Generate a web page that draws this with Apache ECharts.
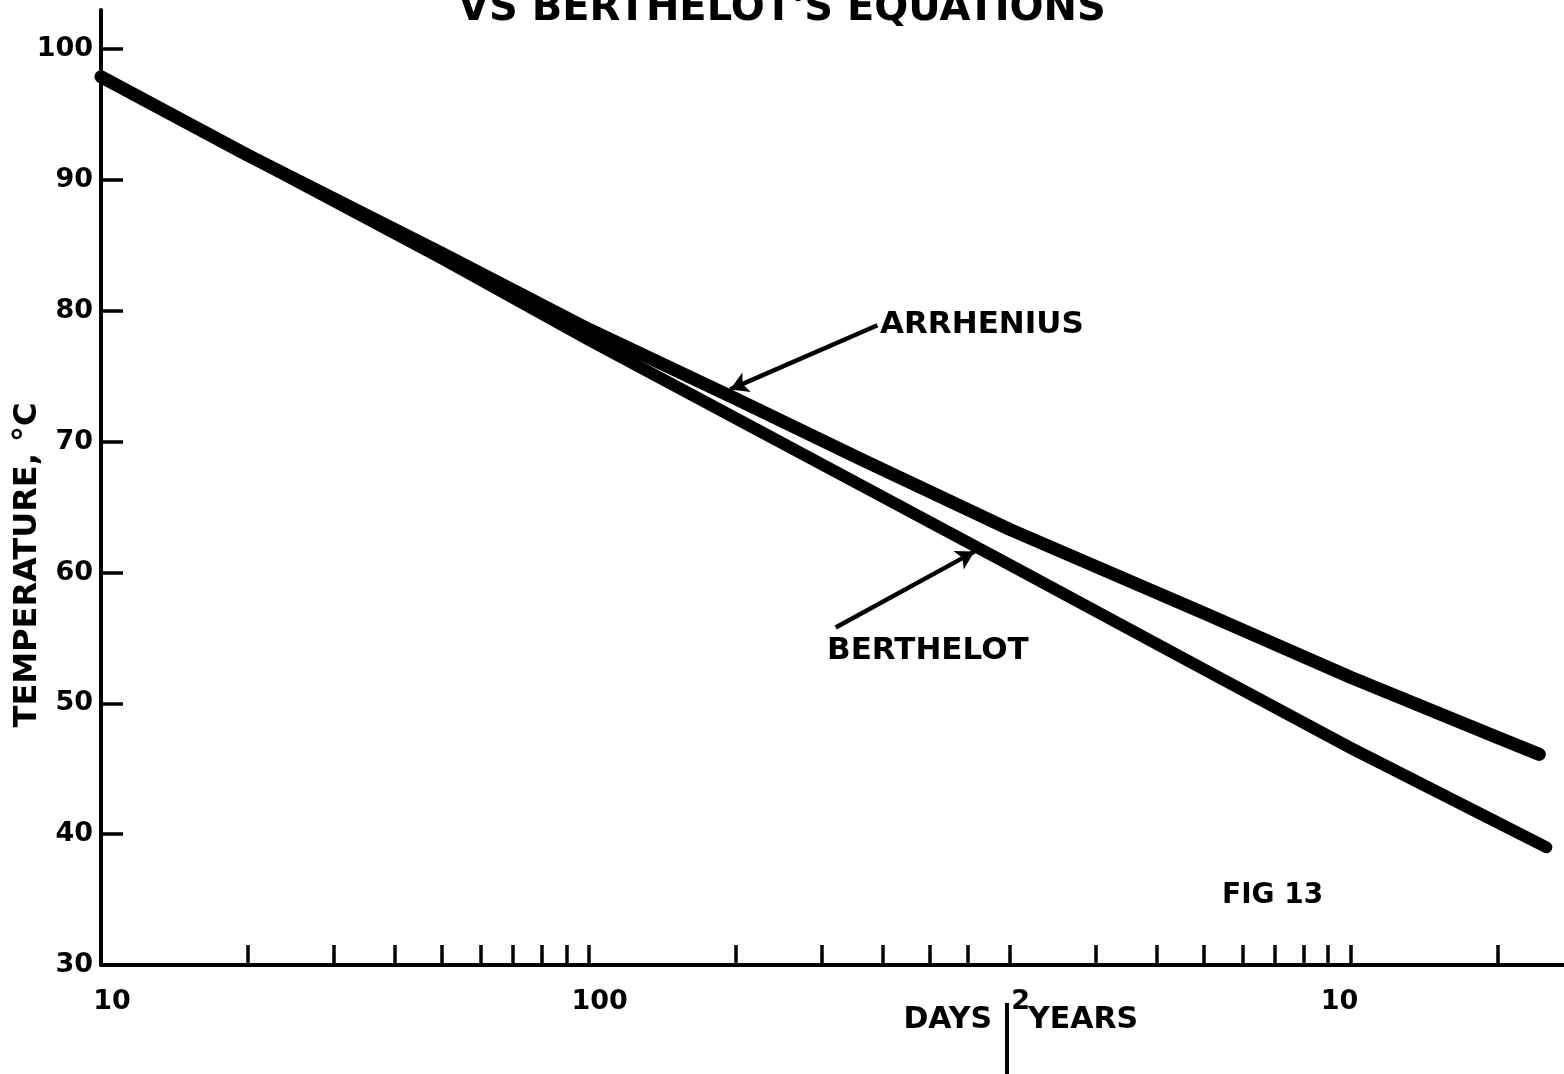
<!DOCTYPE html>
<html>
<head>
<meta charset="utf-8">
<script src="https://cdn.jsdelivr.net/npm/echarts@6/dist/echarts.min.js"></script>
<style>
  html, body { margin: 0; padding: 0; background: #fff; }
  #chart { width: 1564px; height: 1074px; }
</style>
</head>
<body>
<div id="chart"></div>
<script>
// time in days (log axis), temperature in deg C
var arrheniusDays = [10, 20, 50, 100, 200, 365, 730, 1825, 3650, 7300, 8900];
var arrheniusTemp = [97.9, 91.9, 84.4, 78.6, 73.3, 68.6, 63.3, 56.9, 52.0, 47.4, 46.1];
var berthelotDays = [10, 20, 50, 100, 200, 365, 730, 1825, 3650, 7300, 9200];
var berthelotTemp = [97.9, 91.9, 84.0, 77.8, 71.8, 66.6, 60.6, 52.6, 46.6, 40.9, 39.0];

// tick marks: days 20..100, 200..600, then years 2..10, 20 (in days)
var xTickDays = [20, 30, 40, 50, 60, 70, 80, 90, 100, 200, 300, 400, 500, 600,
                 730, 1095, 1460, 1825, 2190, 2555, 2920, 3285, 3650, 7300];
var xLabelDays = [10, 100, 730, 3650];
var xLabelText = ['{r|10}', '{r|100}', '{r|2}', '{l|10}'];
var yTicks = [30, 40, 50, 60, 70, 80, 90, 100];

// arrow lines for the annotations, [days, temp]
var arrheniusArrow = [[391, 78.9], [195, 74.0]];
var berthelotArrow = [[321, 55.8], [618, 61.6]];

var FONT = 'DejaVu Sans';

function pairs(xs, ys) {
    var out = [];
    for (var i = 0; i < xs.length; i++) {
        out.push([xs[i], ys[i]]);
    }
    return out;
}

function arrowLine(a) {
    return [{coord: a[0], symbol: 'none'}, {coord: a[1], symbol: 'arrow'}];
}

var option = {
    backgroundColor: '#fff',
    animation: false,
    title: {
        text: "VS BERTHELOT'S EQUATIONS",
        left: 'center',
        top: -15,
        textStyle: {fontFamily: FONT, fontWeight: 'bold', fontSize: 40, color: '#000'}
    },
    grid: {left: 101, right: 0, top: 10, bottom: 109, containLabel: false},
    xAxis: {
        type: 'log',
        logBase: 10,
        min: 10,
        max: 10000,
        axisLine: {lineStyle: {color: '#000', width: 4}},
        axisTick: {
            inside: true, length: 20,
            lineStyle: {color: '#000', width: 3.5},
            customValues: xTickDays
        },
        minorTick: {show: false},
        splitLine: {show: false},
        axisLabel: {
            customValues: xLabelDays,
            margin: 23,
            color: '#000',
            fontFamily: FONT, fontWeight: 'bold', fontSize: 27,
            rich: {
                r: {fontFamily: FONT, fontWeight: 'bold', fontSize: 27, color: '#000', padding: [0, 0, 0, 22]},
                l: {fontFamily: FONT, fontWeight: 'bold', fontSize: 27, color: '#000', padding: [0, 22, 0, 0]}
            },
            formatter: function (v) {
                for (var i = 0; i < xLabelDays.length; i++) {
                    if (Math.abs(v - xLabelDays[i]) / xLabelDays[i] < 0.01) {
                        return xLabelText[i];
                    }
                }
                return '';
            }
        }
    },
    yAxis: {
        type: 'value',
        min: 30,
        max: 103,
        axisLine: {show: true, lineStyle: {color: '#000', width: 4}},
        axisTick: {
            inside: true, length: 22,
            lineStyle: {color: '#000', width: 3.5},
            customValues: yTicks
        },
        splitLine: {show: false},
        axisLabel: {
            customValues: yTicks,
            margin: 8,
            color: '#000',
            fontFamily: FONT, fontWeight: 'bold', fontSize: 27
        }
    },
    series: [
        {
            name: 'ARRHENIUS',
            type: 'line',
            data: pairs(arrheniusDays, arrheniusTemp),
            showSymbol: false,
            lineStyle: {color: '#000', width: 13, cap: 'round', join: 'round'},
            markLine: {
                silent: true,
                symbolSize: [16, 18],
                label: {show: false},
                lineStyle: {color: '#000', width: 4.5, type: 'solid'},
                data: [arrowLine(arrheniusArrow)]
            }
        },
        {
            name: 'BERTHELOT',
            type: 'line',
            data: pairs(berthelotDays, berthelotTemp),
            showSymbol: false,
            lineStyle: {color: '#000', width: 12, cap: 'round', join: 'round'},
            markLine: {
                silent: true,
                symbolSize: [16, 18],
                label: {show: false},
                lineStyle: {color: '#000', width: 4.5, type: 'solid'},
                data: [arrowLine(berthelotArrow)]
            }
        }
    ],
    graphic: [
        {
            type: 'text', x: 28, y: 565, rotation: Math.PI / 2,
            style: {
                text: 'TEMPERATURE, °C', fill: '#000',
                font: 'bold 32px "DejaVu Sans"', align: 'center', verticalAlign: 'middle'
            }
        },
        {
            type: 'text', x: 880, y: 325,
            style: {text: 'ARRHENIUS', fill: '#000', font: 'bold 31px "DejaVu Sans"', verticalAlign: 'middle'}
        },
        {
            type: 'text', x: 827, y: 651,
            style: {text: 'BERTHELOT', fill: '#000', font: 'bold 31px "DejaVu Sans"', verticalAlign: 'middle'}
        },
        {
            type: 'text', x: 1222, y: 896,
            style: {text: 'FIG 13', fill: '#000', font: 'bold 28px "DejaVu Sans"', verticalAlign: 'middle'}
        },
        {
            type: 'text', x: 992, y: 1020,
            style: {text: 'DAYS', fill: '#000', font: 'bold 30px "DejaVu Sans"', align: 'right', verticalAlign: 'middle'}
        },
        {
            type: 'text', x: 1028, y: 1020,
            style: {text: 'YEARS', fill: '#000', font: 'bold 30px "DejaVu Sans"', verticalAlign: 'middle'}
        },
        {
            type: 'line',
            shape: {x1: 1007, y1: 1003, x2: 1007, y2: 1074},
            style: {stroke: '#000', lineWidth: 4}
        }
    ]
};

var myChart = echarts.init(document.getElementById('chart'));
myChart.setOption(option);
</script>
</body>
</html>
